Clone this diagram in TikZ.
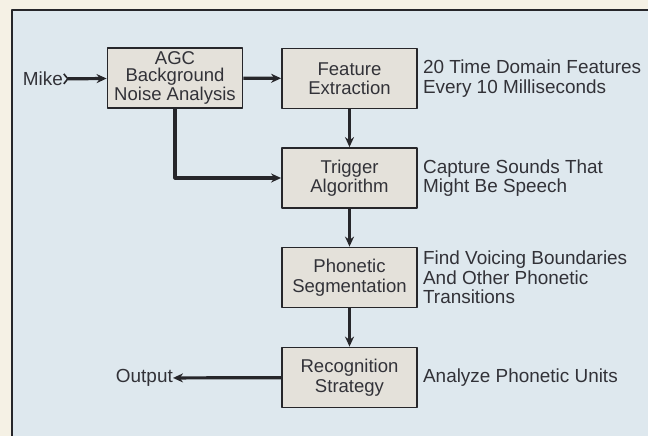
\documentclass[tikz,border=0pt]{standalone}
\usepackage{fontspec}
\setmainfont{Liberation Sans}
\usetikzlibrary{arrows.meta,positioning}

\definecolor{paper}{RGB}{245,241,229}
\definecolor{panel}{RGB}{222,232,238}
\definecolor{boxfill}{RGB}{228,225,218}
\definecolor{ink}{RGB}{38,38,42}
\definecolor{txt}{RGB}{50,50,56}

\begin{document}
\begin{tikzpicture}[x=1bp, y=-1bp, line join=round,
    blk/.style={draw=ink, line width=1.8bp, fill=boxfill, minimum width=135bp, minimum height=60bp,
        inner sep=0pt, align=center, text=txt, font=\fontsize{18.6}{19.5}\selectfont},
    note/.style={inner sep=0pt, align=left, text=txt, font=\fontsize{19}{19.8}\selectfont},
    flow/.style={draw=ink, line width=3.2bp, -{Stealth[length=10bp, width=9bp]}}]
    \coordinate (P0) at (0,0);
    \coordinate (P1) at (648,436);
    \coordinate (F0) at (12,10);
    \coordinate (F1) at (660,446);

    % paper and panel
    \clip (P0) rectangle (P1);
    \fill[paper] (P0) rectangle (P1);
    \fill[panel] (F0) rectangle (F1);
    \draw[ink, line width=2bp] (F0) rectangle (F1);

    \node[blk, font=\fontsize{18.6}{17}\selectfont] (agc) at (175,78) {AGC\\Background\\Noise Analysis};
    \node[blk] (feat) at (349.5,78.5) {Feature\\Extraction};
    \node[blk] (trig) at (349.5,178) {Trigger\\Algorithm};
    \node[blk] (phon) at (349.5,277.5) {Phonetic\\Segmentation};
    \node[blk] (recog) at (349.5,377.5) {Recognition\\Strategy};

    \node[note, right=5bp of feat] (featnote) {20 Time Domain Features\\Every 10 Milliseconds};
    \node[note, right=5bp of trig] (trignote) {Capture Sounds That\\Might Be Speech};
    \node[note, right=5bp of phon] (phonnote) {Find Voicing Boundaries\\And Other Phonetic\\Transitions};
    \node[note, right=5bp of recog] (recognote) {Analyze Phonetic Units};

    \node[note, anchor=east] (mike) at (63,79) {Mike};
    \node[note, anchor=east] (out) at (173,378) {Output};

    \draw[flow, {Straight Barb[reversed, length=4bp, width=10bp, line width=1.6bp]}-{Stealth[length=10bp, width=9bp]}] (mike) -- (agc);
    \draw[flow] (agc) -- (feat);
    \draw[flow] (agc.south) |- (trig.west);
    \draw[flow] (feat) -- (trig);
    \draw[flow] (trig) -- (phon);
    \draw[flow] (phon) -- (recog);
    \draw[flow] (recog) -- (out);
\end{tikzpicture}
\end{document}
